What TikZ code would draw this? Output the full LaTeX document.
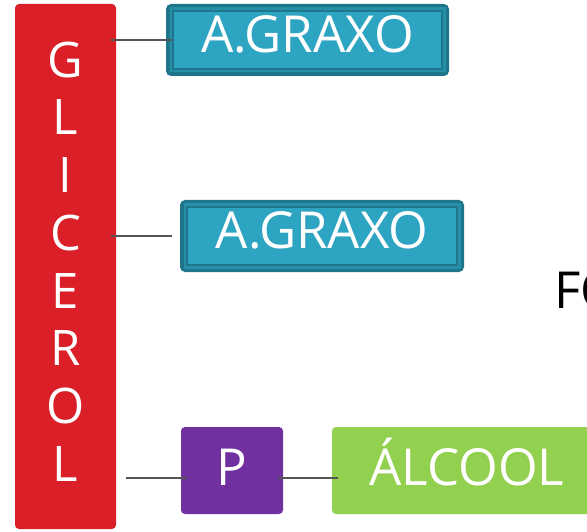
\documentclass[tikz,border=0pt]{standalone}
\usepackage{fontspec}
\setmainfont{Open Sans}
\definecolor{gred}{HTML}{DA1F28}
\definecolor{tdark}{HTML}{1F7589}
\definecolor{tmid}{HTML}{2790A9}
\definecolor{tlight}{HTML}{2DA4C1}
\definecolor{ppurple}{HTML}{7030A0}
\definecolor{agreen}{HTML}{92D050}
\definecolor{lgray}{HTML}{555555}
\begin{document}
\begin{tikzpicture}[x=1pt,y=-1pt,
  bigfont/.style={font=\fontsize{51}{57.7}\selectfont},
  bar/.style={fill=gred, rounded corners=4pt, inner sep=0pt},
  letters/.style={font=\fontsize{49}{57.7}\selectfont, text=white, align=center, inner sep=0pt},
  graxo/.style={bigfont, text=white, fill=tdark, rounded corners=5pt,
    minimum width=284pt, minimum height=72pt, inner sep=0pt,
    text height=36pt, text depth=11pt,
    path picture={
      \fill[tmid, sharp corners] ([shift={(3.5pt,-3.5pt)}]path picture bounding box.north west) rectangle ([shift={(-3.5pt,3.5pt)}]path picture bounding box.south east);
      \filldraw[fill=tlight, draw=tdark, line width=1.6pt, sharp corners] ([shift={(7pt,-7pt)}]path picture bounding box.north west) rectangle ([shift={(-7pt,7pt)}]path picture bounding box.south east);
    }},
  pbox/.style={bigfont, text=white, fill=ppurple, rounded corners=4pt,
    minimum width=102pt, minimum height=87pt, inner sep=0pt,
    text height=36pt, text depth=6pt},
  abox/.style={bigfont, text=white, fill=agreen, rounded corners=4pt,
    minimum width=270pt, minimum height=87pt, inner sep=0pt,
    text height=36pt, text depth=6pt},
  conn/.style={draw=lgray, line width=2pt}
]
\useasboundingbox (0,0) rectangle (587,532);
\clip (0,0) rectangle (587,532);
\node[bar, minimum width=101pt, minimum height=525pt] (glic) at (65.5,266.5) {};
\node[letters] (glictext) at (65.5,261.5) {G\\L\\I\\C\\E\\R\\O\\L};
\node[graxo, minimum width=283pt] (a1) at (307.5,40) {A.GRAXO};
\node[graxo] (a2) at (322,236) {A.GRAXO};
\node[pbox] (p) at (232,470.5) {P};
\node[abox] (alc) at (467,470.5) {ÁLCOOL};
\node[bigfont, text=black, anchor=base west, inner sep=0pt] (fo) at (554,308) {FO};
\draw[conn] ([xshift=-5pt]glic.east |- a1.west) -- ([xshift=6pt]a1.west);
\draw[conn] ([xshift=-5pt]glic.east |- a2.west) -- ([xshift=-8pt]a2.west);
\draw[conn] ([xshift=10pt,yshift=-7.5pt]glic.east |- p.west) -- ([xshift=6pt,yshift=-7.5pt]p.west);
\draw[conn] ([xshift=-5pt,yshift=-7.5pt]p.east) -- ([xshift=6pt,yshift=-7.5pt]alc.west);
\end{tikzpicture}
\end{document}
